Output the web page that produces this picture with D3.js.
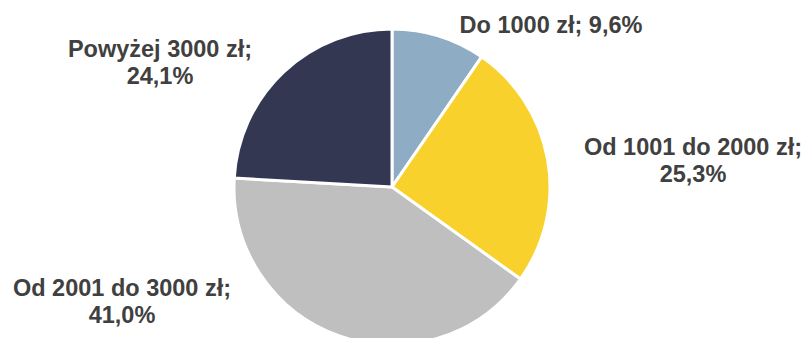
<!DOCTYPE html>
<html>
<head>
<meta charset="utf-8">
<script src="https://cdn.jsdelivr.net/npm/d3@7"></script>
<style>
  html, body { margin: 0; padding: 0; background: #ffffff; }
  svg { display: block; }
</style>
</head>
<body>
<svg id="chart" width="808" height="338"></svg>
<script>
// Income brackets and their shares (%)
const categories = ["Do 1000 zł", "Od 1001 do 2000 zł", "Od 2001 do 3000 zł", "Powyżej 3000 zł"];
const shares = [9.6, 25.3, 41.0, 24.1];
const colors = ["#8EACC4", "#F9D12C", "#BFBFBF", "#333751"];
// Label text lines per slice
const labelLines = [
  ["Do 1000 zł; 9,6%"],
  ["Od 1001 do 2000 zł;", "25,3%"],
  ["Od 2001 do 3000 zł;", "41,0%"],
  ["Powyżej 3000 zł;", "24,1%"]
];
// Label anchor points (centre x, first baseline y)
const labelPos = [[551, 33], [693, 155], [122, 296], [160, 57]];

const fmt = v => v.toFixed(1).replace(".", ",") + "%";

const svg = d3.select("#chart");
const cx = 392, cy = 187, radius = 158;

const pie = d3.pie().sort(null).value(d => d.value);
const arc = d3.arc().innerRadius(0).outerRadius(radius);

const data = categories.map((c, i) => ({ name: c, value: shares[i], color: colors[i] }));

const g = svg.append("g").attr("transform", `translate(${cx},${cy})`);
g.selectAll("path")
  .data(pie(data))
  .join("path")
  .attr("d", arc)
  .attr("fill", d => d.data.color)
  .attr("stroke", "#ffffff")
  .attr("stroke-width", 3)
  .attr("stroke-linejoin", "round");

const labels = svg.append("g")
  .attr("font-family", "'Liberation Sans', Arial, sans-serif")
  .attr("font-weight", "bold")
  .attr("font-size", "23.5px")
  .attr("fill", "#404040")
  .attr("text-anchor", "middle");

data.forEach((d, i) => {
  const lines = labelLines[i].length === 1
    ? [d.name + "; " + fmt(d.value)]
    : [d.name + ";", fmt(d.value)];
  const t = labels.append("text")
    .attr("x", labelPos[i][0])
    .attr("y", labelPos[i][1]);
  lines.forEach((ln, j) => {
    t.append("tspan")
      .attr("x", labelPos[i][0])
      .attr("dy", j === 0 ? 0 : 26.5)
      .text(ln);
  });
});
</script>
</body>
</html>
